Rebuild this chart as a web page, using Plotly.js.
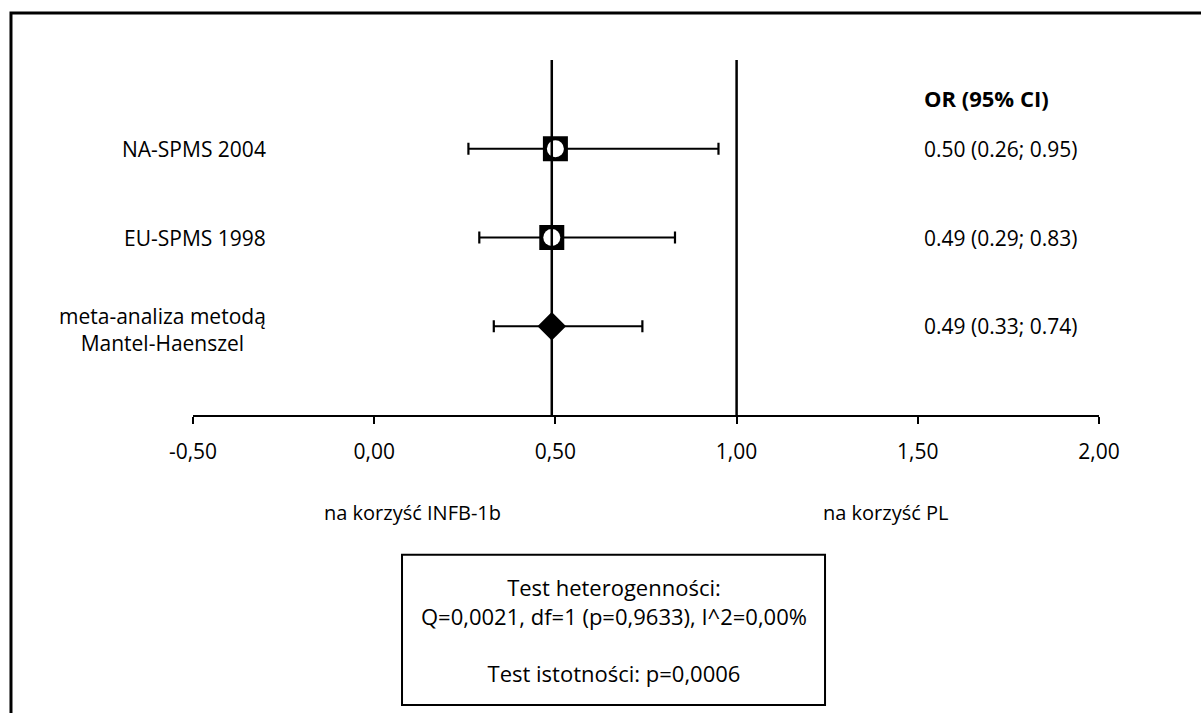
<!DOCTYPE html>
<html>
<head>
<meta charset="utf-8">
<script src="https://cdn.plot.ly/plotly-3.0.1.min.js"></script>
<style>html,body{margin:0;padding:0;background:#fff;}#chart{width:1201px;height:713px;}</style>
</head>
<body>
<div id="chart"></div>
<script>
// ---- data ----
const studies = ["NA-SPMS 2004", "EU-SPMS 1998"];
const studyOR = [0.50, 0.49];
const studyLo = [0.26, 0.29];
const studyHi = [0.95, 0.83];
const studyRow = [3, 2];

const pooledLabel = "meta-analiza metodą<br>Mantel-Haenszel";
const pooledOR = [0.49];
const pooledLo = [0.33];
const pooledHi = [0.74];
const pooledRow = [1];

const nullValue = 1.0;
const tickVals = [-0.5, 0, 0.5, 1.0, 1.5, 2.0];
const tickLabels = ["-0,50", "0,00", "0,50", "1,00", "1,50", "2,00"];
const xRange = [-0.5, 2.0];
const yRange = [0, 4];

const colHeader = "OR (95% CI)";
const leftSideLabel = "na korzyść INFB-1b";
const rightSideLabel = "na korzyść PL";
const statsText = "Test heterogenności:<br>Q=0,0021, df=1 (p=0,9633), I^2=0,00%<br> <br>Test istotności: p=0,0006";

// ---- build ----
const FONT = "Open Sans, Lato, sans-serif";
const fmt = v => v.toFixed(2);
const ciText = (o, l, h) => fmt(o) + " (" + fmt(l) + "; " + fmt(h) + ")";

const traces = [
  {
    type: "scatter", mode: "markers", x: studyOR, y: studyRow,
    marker: {symbol: "square", size: 25, color: "#000"},
    error_x: {type: "data", symmetric: false,
      array: studyHi.map((h, i) => h - studyOR[i]),
      arrayminus: studyLo.map((l, i) => studyOR[i] - l),
      color: "#000", thickness: 2.2, width: 6},
    hoverinfo: "skip", showlegend: false, cliponaxis: false
  },
  {
    type: "scatter", mode: "markers", x: studyOR, y: studyRow,
    marker: {symbol: "circle", size: 17, color: "#fff"},
    hoverinfo: "skip", showlegend: false, cliponaxis: false
  },
  {
    type: "scatter", mode: "markers", x: pooledOR, y: pooledRow,
    marker: {symbol: "diamond", size: 22, color: "#000"},
    error_x: {type: "data", symmetric: false,
      array: pooledHi.map((h, i) => h - pooledOR[i]),
      arrayminus: pooledLo.map((l, i) => pooledOR[i] - l),
      color: "#000", thickness: 2.2, width: 6},
    hoverinfo: "skip", showlegend: false, cliponaxis: false
  }
];

const annotations = [];
studies.forEach((s, i) => {
  annotations.push({xref: "paper", yref: "y", x: 0.0828, y: studyRow[i], text: s,
    xanchor: "right", yanchor: "middle", showarrow: false,
    font: {family: FONT, size: 21, color: "#000"}});
  annotations.push({xref: "paper", yref: "y", x: 0.8046, y: studyRow[i],
    text: ciText(studyOR[i], studyLo[i], studyHi[i]),
    xanchor: "left", yanchor: "middle", showarrow: false,
    font: {family: FONT, size: 21, color: "#000"}});
});
annotations.push({xref: "paper", yref: "y", x: 0.0828, y: pooledRow[0], yshift: -3,
  text: pooledLabel, align: "center", xanchor: "right", yanchor: "middle", showarrow: false,
  font: {family: FONT, size: 21, color: "#000"}});
annotations.push({xref: "paper", yref: "y", x: 0.8046, y: pooledRow[0],
  text: ciText(pooledOR[0], pooledLo[0], pooledHi[0]),
  xanchor: "left", yanchor: "middle", showarrow: false,
  font: {family: FONT, size: 21, color: "#000"}});
annotations.push({xref: "paper", yref: "paper", x: 0.8046, y: 0.893,
  text: "<b>" + colHeader + "</b>", xanchor: "left", yanchor: "middle", showarrow: false,
  font: {family: FONT, size: 22, color: "#000"}});
annotations.push({xref: "paper", yref: "paper", x: 0.2428, y: -0.276,
  text: leftSideLabel, xanchor: "center", yanchor: "middle", showarrow: false,
  font: {family: FONT, size: 20, color: "#000"}});
annotations.push({xref: "paper", yref: "paper", x: 0.7638, y: -0.276,
  text: rightSideLabel, xanchor: "center", yanchor: "middle", showarrow: false,
  font: {family: FONT, size: 20, color: "#000"}});
annotations.push({xref: "paper", yref: "paper", x: 0.4643, y: -0.606,
  text: statsText, align: "center", xanchor: "center", yanchor: "middle", showarrow: false,
  font: {family: FONT, size: 22, color: "#000"}});

const shapes = [
  // pooled estimate line
  {type: "line", xref: "x", yref: "paper", x0: pooledOR[0], x1: pooledOR[0], y0: 0, y1: 1,
    line: {color: "#000", width: 2.5}, layer: "above"},
  // line of no effect
  {type: "line", xref: "x", yref: "paper", x0: nullValue, x1: nullValue, y0: 0, y1: 1,
    line: {color: "#000", width: 2.5}, layer: "above"},
  // stats box
  {type: "rect", xref: "paper", yref: "paper", x0: 0.2307, x1: 0.6976, y0: -0.817, y1: -0.394,
    line: {color: "#000", width: 2}, fillcolor: "rgba(0,0,0,0)"},
  // outer frame
  {type: "rect", xref: "paper", yref: "paper", x0: -0.2009, x1: 1.3, y0: -1.0, y1: 1.1324,
    line: {color: "#000", width: 3}, fillcolor: "rgba(0,0,0,0)"}
];

const layout = {
  width: 1201, height: 713,
  margin: {l: 193, r: 102, t: 60, b: 298, pad: 0},
  paper_bgcolor: "#fff", plot_bgcolor: "#fff",
  showlegend: false,
  font: {family: FONT, color: "#000"},
  xaxis: {
    range: xRange, tickvals: tickVals, ticktext: tickLabels,
    showgrid: false, zeroline: false, showline: true, linecolor: "#000", linewidth: 2,
    ticks: "outside", ticklen: 7, tickwidth: 2, tickcolor: "#000",
    ticklabelstandoff: 10,
    tickfont: {family: FONT, size: 21, color: "#000"}, fixedrange: true
  },
  yaxis: {range: yRange, visible: false, showgrid: false, zeroline: false, fixedrange: true},
  annotations: annotations,
  shapes: shapes
};

Plotly.newPlot("chart", traces, layout, {displayModeBar: false, staticPlot: true});
</script>
</body>
</html>
